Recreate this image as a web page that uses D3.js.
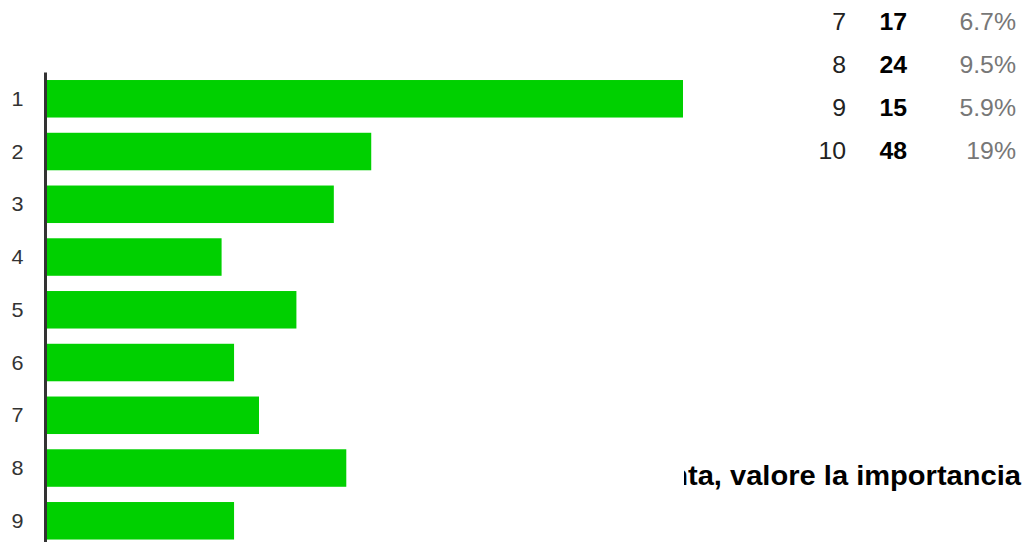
<!DOCTYPE html>
<html>
<head>
<meta charset="utf-8">
<script src="https://cdn.jsdelivr.net/npm/d3@7"></script>
<style>
  html, body { margin: 0; padding: 0; background: #fff; overflow: hidden; }
  svg { display: block; font-family: Arial, "Liberation Sans", sans-serif; }
</style>
</head>
<body>
<svg id="chart" width="1024" height="542"></svg>
<script>
// Answer options (1–10) and the number of responses for each
const categories = ["1", "2", "3", "4", "5", "6", "7", "8", "9", "10"];
const counts = [51, 26, 23, 14, 20, 15, 17, 24, 15, 48];

// Summary table rows shown at the top right
const tableOptions = ["7", "8", "9", "10"];
const tableCounts = [17, 24, 15, 48];
const tablePercents = ["6.7%", "9.5%", "5.9%", "19%"];

// Next question heading: tail of the previous word, then the visible words
const headingTail = "n";
const headingText = "ta, valore la importancia";

// Glyphs are rendered slightly wide
const WIDE = 1.08;

const svg = d3.select("#chart");

// Heading of the following question, partly hidden behind the chart panel
const headStart = 688, headEnd = 1021, headBase = 485;
const clip = svg.append("defs").append("clipPath").attr("id", "headClip");
clip.append("rect").attr("x", 684).attr("y", 440).attr("width", 400).attr("height", 80);

const headG = svg.append("g")
  .attr("clip-path", "url(#headClip)")
  .attr("font-size", 27)
  .attr("font-weight", "bold")
  .attr("fill", "#000");

headG.append("text")
  .attr("transform", `translate(${headStart},${headBase}) scale(${WIDE},1)`)
  .attr("text-anchor", "end")
  .text(headingTail);

headG.append("text")
  .attr("x", headStart)
  .attr("y", headBase)
  .attr("textLength", headEnd - headStart)
  .attr("lengthAdjust", "spacingAndGlyphs")
  .text(headingText);

// Bar chart
const x = d3.scaleLinear().domain([0, d3.max(counts)]).range([47, 683]);
const y = d3.scaleBand().domain(categories).range([72.4, 599.9])
  .paddingInner(0.289).paddingOuter(0.1445);

const data = categories.map((c, i) => ({ c, v: counts[i] }));

svg.append("g").selectAll("rect")
  .data(data)
  .join("rect")
  .attr("x", x(0))
  .attr("y", d => y(d.c))
  .attr("width", d => x(d.v) - x(0))
  .attr("height", y.bandwidth())
  .attr("fill", "#00d000");

// Category axis
const axis = d3.axisLeft(y).tickSize(0).tickPadding(0);
const gAxis = svg.append("g").attr("transform", "translate(45.5,0)").call(axis);
gAxis.select(".domain").attr("stroke", "#333").attr("stroke-width", 3)
  .attr("d", `M0,${y.range()[0]}V${y.range()[1]}`);
gAxis.selectAll(".tick text")
  .attr("x", null)
  .attr("dy", "0.35em")
  .attr("transform", `translate(-22,0) scale(${WIDE},1)`)
  .attr("text-anchor", "end")
  .attr("font-size", 20)
  .attr("font-family", "Arial, 'Liberation Sans', sans-serif")
  .attr("fill", "#333");

// Summary table
const rowY = d3.scalePoint().domain(tableOptions).range([30, 159]);
const tbl = svg.append("g").attr("font-size", 23);

const column = (cls, xPos, fmt, attrs) => {
  const sel = tbl.selectAll("text." + cls)
    .data(tableOptions)
    .join("text")
    .attr("class", cls)
    .attr("transform", d => `translate(${xPos},${rowY(d)}) scale(${WIDE},1)`)
    .attr("text-anchor", "end")
    .text(fmt);
  Object.entries(attrs).forEach(([k, v]) => sel.attr(k, v));
};

column("opt", 846, d => d, { fill: "#222" });
column("cnt", 907, (d, i) => tableCounts[i], { fill: "#000", "font-weight": "bold" });
column("pct", 1016, (d, i) => tablePercents[i], { fill: "#777" });
</script>
</body>
</html>
